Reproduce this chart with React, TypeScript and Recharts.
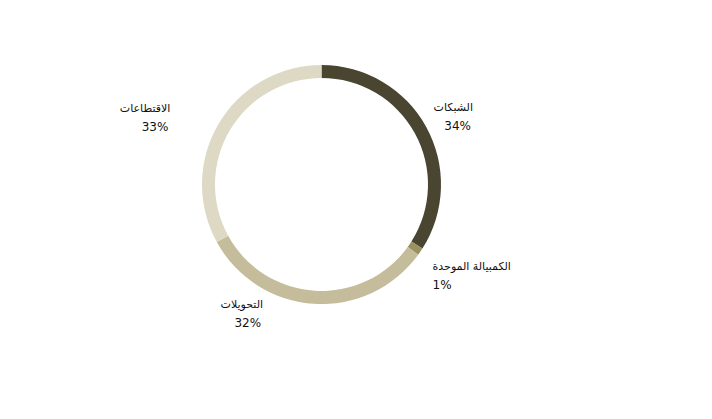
import { PieChart, Pie, Cell } from 'recharts'

const categories = ['الشبكات', 'الكمبيالة الموحدة', 'التحويلات', 'الاقتطاعات']
const shares = [34, 1, 32, 33]
const colors = ['#4a4530', '#9a9160', '#c4bc9a', '#ded9c4']

// label placement relative to the slice mid-angle point
const labelNudge = [
  { dx: 20, dy: -5, anchor: 'end' },
  { dx: -13, dy: -3, anchor: 'start' },
  { dx: -49, dy: -30, anchor: 'end' },
  { dx: -22, dy: 0, anchor: 'end' },
]

const data = categories.map((name, i) => ({ name, value: shares[i] }))

const RADIAN = Math.PI / 180

function renderLabel(props: any) {
  const { cx, cy, midAngle, index, value, name } = props
  const r = 150
  const nudge = labelNudge[index]
  const x = cx + r * Math.cos(-midAngle * RADIAN) + nudge.dx
  const y = cy + r * Math.sin(-midAngle * RADIAN) + nudge.dy
  const pctX = nudge.anchor === 'end' ? x - 2 : x
  return (
    <g>
      <text x={x} y={y + 4} textAnchor={nudge.anchor} fill="#111" fontSize={11} fontFamily="DejaVu Sans, sans-serif">
        {name}
      </text>
      <text x={pctX} y={y + 23} textAnchor={nudge.anchor} fill="#111" fontSize={12} fontFamily="DejaVu Sans, sans-serif">
        {value}%
      </text>
    </g>
  )
}

export default function App() {
  return (
    <div style={{ position: 'absolute', left: 0, top: 0, width: 712, height: 419, background: '#fff' }}>
      <PieChart width={712} height={419}>
        <Pie
          data={data}
          dataKey="value"
          nameKey="name"
          cx={316.5}
          cy={179.5}
          innerRadius={106.5}
          outerRadius={119.5}
          startAngle={90}
          endAngle={-270}
          stroke="none"
          labelLine={false}
          label={renderLabel}
          isAnimationActive={false}
        >
          {data.map((d, i) => (
            <Cell key={d.name} fill={colors[i]} />
          ))}
        </Pie>
      </PieChart>
    </div>
  )
}
